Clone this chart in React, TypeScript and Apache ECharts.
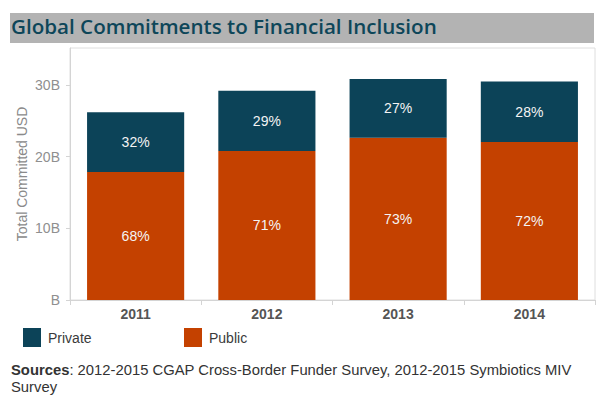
import React, { useEffect, useRef } from "react";
import * as echarts from "echarts";

const years = ["2011", "2012", "2013", "2014"];
const publicValues = [17.86, 20.8, 22.65, 22.05];
const privateValues = [8.34, 8.4, 8.19, 8.45];
const publicPct = ["68%", "71%", "73%", "72%"];
const privatePct = ["32%", "29%", "27%", "28%"];
const yTickLabels = ["B", "10B", "20B", "30B"];
const yAxisTitle = "Total Committed USD";

const PRIVATE_COLOR = "#0c4358";
const PUBLIC_COLOR = "#c44100";

export default function App() {
  const ref = useRef<HTMLDivElement>(null);
  useEffect(() => {
    if (!ref.current) return;
    const chart = echarts.init(ref.current, null, { renderer: "svg" });
    chart.setOption({
      animation: false,
      backgroundColor: "#ffffff",
      textStyle: { fontFamily: "Arial, 'Liberation Sans', sans-serif" },
      grid: {
        left: 70,
        right: 5,
        top: 48,
        bottom: 97,
        show: true,
        borderColor: "#dedede",
        borderWidth: 1,
        backgroundColor: "transparent",
      },
      legend: [
        {
          left: 18,
          top: 323,
          itemWidth: 18,
          itemHeight: 19,
          itemGap: 8,
          icon: "rect",
          data: ["Private"],
          selectedMode: false,
          textStyle: { fontSize: 14, color: "#3a3a3a", padding: [0, 0, 0, 2] },
        },
        {
          left: 179,
          top: 323,
          itemWidth: 18,
          itemHeight: 19,
          icon: "rect",
          data: ["Public"],
          selectedMode: false,
          textStyle: { fontSize: 14, color: "#3a3a3a", padding: [0, 0, 0, 2] },
        },
      ],
      xAxis: {
        type: "category",
        data: years,
        axisLine: { lineStyle: { color: "#d4d4d4" } },
        axisTick: { show: true, length: 5, lineStyle: { color: "#d4d4d4" } },
        axisLabel: { fontSize: 14, fontWeight: "bold", color: "#555555", margin: 7 },
      },
      yAxis: {
        type: "value",
        min: 0,
        max: 35.16,
        interval: 10,
        axisLine: { show: true, lineStyle: { color: "#d4d4d4" } },
        axisTick: { show: true, length: 4, lineStyle: { color: "#d4d4d4" } },
        splitLine: { show: false },
        axisLabel: {
          fontSize: 14,
          color: "#8f8f8f",
          margin: 10,
          showMaxLabel: false,
          formatter: (v: number) => yTickLabels[Math.round(v / 10)] ?? "",
        },
      },
      series: [
        {
          name: "Public",
          type: "bar",
          stack: "total",
          barCategoryGap: "26%",
          data: publicValues,
          itemStyle: { color: PUBLIC_COLOR },
          label: {
            show: true,
            position: "inside",
            color: "#f4f4f4",
            fontSize: 14,
            formatter: (p: any) => publicPct[p.dataIndex],
          },
        },
        {
          name: "Private",
          type: "bar",
          stack: "total",
          data: privateValues,
          itemStyle: { color: PRIVATE_COLOR },
          label: {
            show: true,
            position: "inside",
            color: "#f4f4f4",
            fontSize: 14,
            formatter: (p: any) => privatePct[p.dataIndex],
          },
        },
      ],
      graphic: [
        {
          type: "rect",
          z: -1,
          shape: { x: 10, y: 13, width: 584, height: 30 },
          style: { fill: "#b3b3b3" },
        },
        {
          type: "text",
          left: 11,
          top: 15,
          style: {
            text: "Global Commitments to Financial Inclusion",
            fill: "#0d4659",
            font: "600 20.6px 'Open Sans', sans-serif",
          },
        },
        {
          type: "text",
          x: 22,
          y: 174,
          rotation: Math.PI / 2,
          style: {
            text: yAxisTitle,
            fill: "#8a8a8a",
            fontSize: 14,
            fontFamily: "Arial, 'Liberation Sans', sans-serif",
            align: "center",
            verticalAlign: "middle",
          },
        },
        {
          type: "text",
          left: 11,
          top: 361,
          style: {
            text: "{b|Sources}: 2012-2015 CGAP Cross-Border Funder Survey, 2012-2015 Symbiotics MIV\nSurvey",
            fill: "#333333",
            fontSize: 14.8,
            fontFamily: "Arial, 'Liberation Sans', sans-serif",
            lineHeight: 17,
            rich: {
              b: { fontWeight: "bold", fontSize: 14.8, fill: "#333333", lineHeight: 17 },
            },
          },
        },
      ],
    });
    return () => chart.dispose();
  }, []);
  return (
    <div
      ref={ref}
      style={{ position: "fixed", left: 0, top: 0, width: 600, height: 397 }}
    />
  );
}
